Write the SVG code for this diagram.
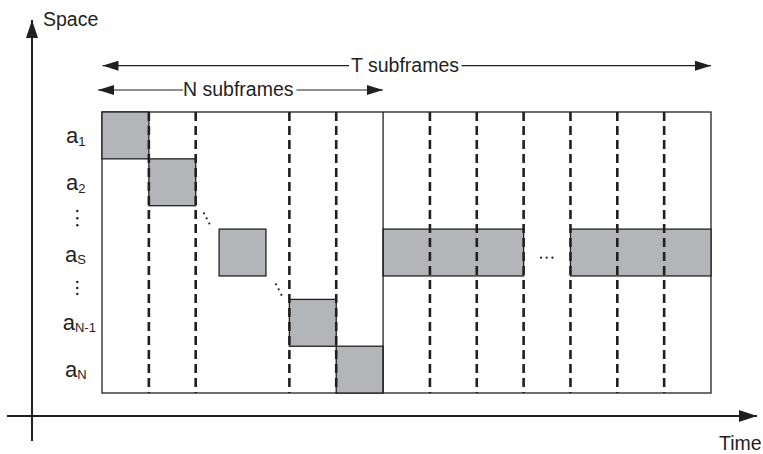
<svg xmlns="http://www.w3.org/2000/svg" width="763" height="454" viewBox="0 0 763 454">
<style>
text{font-family:"Liberation Sans",Arial,sans-serif;fill:#231f20}
.lbl{font-size:19.5px}
.a{font-size:22px}
.sub{font-size:13px}
.cell{fill:#b4b5b8;stroke:#231f20;stroke-width:1.3}
.dash{stroke:#231f20;stroke-width:2.6;stroke-dasharray:9 5;fill:none}
.thin{stroke:#231f20;stroke-width:1.2;fill:none}
.axis{stroke:#231f20;stroke-width:2;fill:none}
.dot{fill:#231f20}
</style>
<defs>
<marker id="ah" markerUnits="userSpaceOnUse" markerWidth="16" markerHeight="10" refX="16" refY="5" orient="auto-start-reverse">
<path d="M0,0 L16,5 L0,10 z" fill="#231f20"/>
</marker>
<marker id="axh" markerUnits="userSpaceOnUse" markerWidth="18" markerHeight="12" refX="18" refY="6" orient="auto">
<path d="M0,0 L18,6 L0,12 z" fill="#231f20"/>
</marker>
</defs>
<rect width="763" height="454" fill="#fff"/>

<g id="axes">
<line class="axis" x1="32" y1="441" x2="32" y2="20" marker-end="url(#axh)"/>
<line class="axis" x1="7" y1="416" x2="757" y2="416" marker-end="url(#axh)"/>
<text class="lbl" x="43" y="26">Space</text>
<text class="lbl" x="719" y="450">Time</text>
</g>

<g id="frame">
<rect x="102" y="112" width="609" height="281" fill="#fff" stroke="#231f20" stroke-width="1.3"/>
</g>

<g id="cells">
<rect class="cell" x="102" y="112" width="46.85" height="46.85"/>
<rect class="cell" x="148.85" y="158.85" width="46.85" height="46.85"/>
<rect class="cell" x="219.1" y="229.1" width="46.85" height="46.85"/>
<rect class="cell" x="289.38" y="299.4" width="46.85" height="46.85"/>
<rect class="cell" x="336.23" y="346.2" width="46.85" height="46.8"/>
<rect class="cell" x="383.08" y="229.1" width="140.54" height="46.85"/>
<rect class="cell" x="570.46" y="229.1" width="140.54" height="46.85"/>
</g>

<g id="subframe-lines">
<line class="dash" x1="148.85" y1="112" x2="148.85" y2="393"/>
<line class="dash" x1="195.69" y1="112" x2="195.69" y2="393"/>
<line class="dash" x1="289.38" y1="112" x2="289.38" y2="393"/>
<line class="dash" x1="336.23" y1="112" x2="336.23" y2="393"/>
<line x1="383.08" y1="112" x2="383.08" y2="393" stroke="#231f20" stroke-width="1.3"/>
<line class="dash" x1="429.92" y1="112" x2="429.92" y2="393"/>
<line class="dash" x1="476.77" y1="112" x2="476.77" y2="393"/>
<line class="dash" x1="523.62" y1="112" x2="523.62" y2="393"/>
<line class="dash" x1="570.46" y1="112" x2="570.46" y2="393"/>
<line class="dash" x1="617.31" y1="112" x2="617.31" y2="393"/>
<line class="dash" x1="664.15" y1="112" x2="664.15" y2="393"/>
</g>

<g id="ellipses">
<circle class="dot" cx="204" cy="213.3" r="1.1"/>
<circle class="dot" cx="206.7" cy="218.3" r="1.1"/>
<circle class="dot" cx="209.3" cy="223.5" r="1.1"/>
<circle class="dot" cx="276" cy="284.3" r="1.1"/>
<circle class="dot" cx="278.7" cy="289.3" r="1.1"/>
<circle class="dot" cx="281.3" cy="294.8" r="1.1"/>
<circle class="dot" cx="77.3" cy="211" r="1.2"/>
<circle class="dot" cx="77.3" cy="218.2" r="1.2"/>
<circle class="dot" cx="77.3" cy="225.3" r="1.2"/>
<circle class="dot" cx="77.3" cy="282" r="1.2"/>
<circle class="dot" cx="77.3" cy="288" r="1.2"/>
<circle class="dot" cx="77.3" cy="294" r="1.2"/>
<circle class="dot" cx="541" cy="257.7" r="1.1"/>
<circle class="dot" cx="546.7" cy="257.7" r="1.1"/>
<circle class="dot" cx="552.4" cy="257.7" r="1.1"/>
</g>

<g id="labels">
<text class="a" x="66" y="143.3">a<tspan class="sub" dy="2.5">1</tspan></text>
<text class="a" x="66" y="190">a<tspan class="sub" dy="2.5">2</tspan></text>
<text class="a" x="65" y="262.3">a<tspan class="sub" dy="2">S</tspan></text>
<text class="a" x="62.7" y="330">a<tspan class="sub" dy="2">N-1</tspan></text>
<text class="a" x="65" y="376.7">a<tspan class="sub" dy="2">N</tspan></text>
</g>

<g id="connectors">
<line class="thin" x1="349" y1="65.7" x2="102.5" y2="65.7" marker-end="url(#ah)"/>
<line class="thin" x1="461.5" y1="65.7" x2="711" y2="65.7" marker-end="url(#ah)"/>
<line class="thin" x1="183" y1="90" x2="98" y2="90" marker-end="url(#ah)"/>
<line class="thin" x1="296.5" y1="90" x2="383" y2="90" marker-end="url(#ah)"/>
<text class="lbl" x="351" y="72">T subframes</text>
<text class="lbl" x="183" y="95.5">N subframes</text>
</g>
</svg>
